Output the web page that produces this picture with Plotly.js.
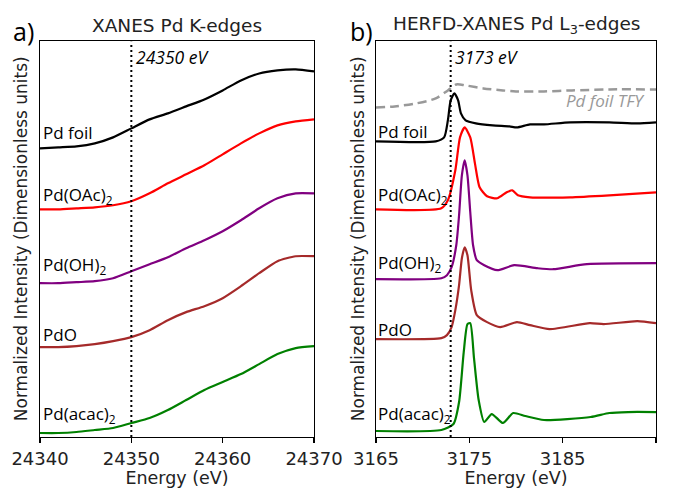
<!DOCTYPE html>
<html>
<head>
<meta charset="utf-8">
<script src="https://cdn.plot.ly/plotly-3.0.1.min.js"></script>
<style>html,body{margin:0;padding:0;background:#fff;}#chart{width:677px;height:488px;}</style>
</head>
<body>
<div id="chart"></div>
<script>
// ---- Panel a) XANES Pd K-edges (offset normalized intensity, arbitrary units) ----
const energyK = [24340,24342,24344,24346,24348,24350,24352,24354,24356,24358,24360,24362,24364,24366,24368,24370];
const kFoil   = [289,290,291,294,300,309,318,324,331,338,347,357,364,367,368,366];
const kOAc    = [228,228,229,230,232,236,244,254,263,272,283,294,304,312,316,318];
const kOH     = [154,154,155,156,159,166,173,180,189,197,206,217,229,239,244,244];
const kPdO    = [90,90,91,93,96,100,107,117,125,131,139,151,164,176,181,181];
const kAcac   = [4,4,5,7,9,14,19,27,37,47,55,63,73,83,89,91];
const ticksK  = [24340,24350,24360,24370];

// ---- Panel b) HERFD-XANES Pd L3-edges ----
const eTFY  = [3165,3167,3169.3,3171.4,3172.7,3173.6,3174.6,3176.5,3178.6,3180,3183,3186,3190,3195];
const lTFY  = [330,331,334,339,347,353,352,349,347,346,346,347,348,348];

const eFoil = [3165,3171.4,3172.3,3172.7,3173.0,3173.4,3173.8,3174.1,3174.6,3175.7,3177.5,3179.3,3180.1,3181.5,3183,3185.8,3190,3193,3195];
const lFoil = [296,296,300,317,337,344,337,324,317,314,312,311,310,313,313,315,315,314,315];

const eOAc  = [3165,3172,3172.7,3173.5,3174.0,3174.5,3175.1,3175.6,3176.1,3176.9,3178.0,3179.0,3179.6,3180.2,3181.5,3185.8,3190,3195];
const lOAc  = [228,229,237,267,300,310,300,274,250,241,239,245,247,242,240,240,242,245];

const eOH   = [3165,3172,3172.6,3173.1,3173.6,3173.9,3174.2,3174.5,3174.8,3175.1,3175.4,3175.8,3176.6,3178,3179.8,3182.3,3184,3187.6,3195];
const lOH   = [158,159,162,170,192,222,262,277,262,225,192,177,172,167,172,169,168,173,174];

const ePdO  = [3165,3172,3172.6,3173.1,3173.5,3173.9,3174.2,3174.5,3174.8,3175.2,3175.8,3176.9,3178.3,3180.1,3181.5,3183.6,3187.9,3189.4,3193,3195];
const lPdO  = [98,99,102,110,127,152,179,190,182,147,122,115,110,115,112,108,114,113,116,114];

const eAcac = [3165,3172,3173.3,3173.9,3174.4,3174.8,3175.1,3175.5,3176.0,3176.6,3177.4,3178.6,3179.7,3181,3183,3188,3190,3192,3195];
const lAcac = [6,7,13,35,85,113,114,79,37,15,23,14,24,21,17,20,24,25,25];
const ticksL = [3165,3175,3185,3195];

const names = ["Pd foil","Pd(OAc)<sub>2</sub>","Pd(OH)<sub>2</sub>","PdO","Pd(acac)<sub>2</sub>"];
const colors = ["#000000","#ff0000","#800080","#a52a2a","#008000"];
const labelYK = [305,242,172,103,23];
const labelYL = [306,242,174,108,23];

const lw = 2.2;
const traces = [];
[kFoil,kOAc,kOH,kPdO,kAcac].forEach((ys,i)=>{
  traces.push({x:energyK,y:ys,type:'scatter',mode:'lines',line:{color:colors[i],width:lw,shape:'spline',smoothing:0.6},xaxis:'x',yaxis:'y'});
});
traces.push({x:eTFY,y:lTFY,type:'scatter',mode:'lines',line:{color:'#999999',width:2.5,dash:'9px,5px',shape:'spline',smoothing:0.8},xaxis:'x2',yaxis:'y2'});
[[eFoil,lFoil],[eOAc,lOAc],[eOH,lOH],[ePdO,lPdO],[eAcac,lAcac]].forEach((d,i)=>{
  traces.push({x:d[0],y:d[1],type:'scatter',mode:'lines',line:{color:colors[i],width:lw,shape:'spline',smoothing:0.6},xaxis:'x2',yaxis:'y2'});
});

const mpl = "'DejaVu Sans', sans-serif";
const ppt = "'Open Sans', sans-serif";
const yDom = [0.1045, 0.915];
const axisCommon = {showline:true,mirror:true,linecolor:'#000',linewidth:1.3,showgrid:false,zeroline:false};

const ann = [];
names.forEach((n,i)=>{
  ann.push({xref:'x',yref:'y',x:24340,y:labelYK[i],text:n,showarrow:false,xanchor:'left',yanchor:'middle',xshift:1,font:{family:ppt,size:17,color:'#000'}});
  ann.push({xref:'x2',yref:'y2',x:3165,y:labelYL[i],text:n,showarrow:false,xanchor:'left',yanchor:'middle',xshift:0,font:{family:ppt,size:17,color:'#000'}});
});
ann.push({xref:'x',yref:'paper',x:24350,y:0.883,text:'<i>24350 eV</i>',showarrow:false,xanchor:'left',yanchor:'middle',xshift:3,font:{family:ppt,size:17.5,color:'#000'}});
ann.push({xref:'x2',yref:'paper',x:3173,y:0.883,text:'<i>3173 eV</i>',showarrow:false,xanchor:'left',yanchor:'middle',xshift:2,font:{family:ppt,size:17.5,color:'#000'}});
ann.push({xref:'x2',yref:'y2',x:3194,y:337,text:'<i>Pd foil TFY</i>',showarrow:false,xanchor:'right',yanchor:'middle',font:{family:ppt,size:17,color:'#999999'}});
ann.push({xref:'paper',yref:'paper',x:23/677,y:1-31/488,text:'a)',showarrow:false,xanchor:'center',yanchor:'middle',font:{family:ppt,size:25,color:'#000'}});
ann.push({xref:'paper',yref:'paper',x:361/677,y:1-31/488,text:'b)',showarrow:false,xanchor:'center',yanchor:'middle',font:{family:ppt,size:25,color:'#000'}});
ann.push({xref:'paper',yref:'paper',x:177/677,y:1-25/488,text:'XANES Pd K-edges',showarrow:false,xanchor:'center',yanchor:'middle',font:{family:mpl,size:18.5,color:'#222'}});
ann.push({xref:'paper',yref:'paper',x:516/677,y:1-25/488,text:'HERFD-XANES Pd L<sub>3</sub>-edges',showarrow:false,xanchor:'center',yanchor:'middle',font:{family:mpl,size:18.5,color:'#222'}});
ann.push({xref:'paper',yref:'paper',x:21/677,y:(yDom[0]+yDom[1])/2,text:'Normalized Intensity (Dimensionless units)',textangle:-90,showarrow:false,xanchor:'center',yanchor:'middle',font:{family:mpl,size:17,color:'#222'}});
ann.push({xref:'paper',yref:'paper',x:358/677,y:(yDom[0]+yDom[1])/2,text:'Normalized Intensity (Dimensionless units)',textangle:-90,showarrow:false,xanchor:'center',yanchor:'middle',font:{family:mpl,size:17,color:'#222'}});

const tickCommon = {ticks:'outside',ticklen:5,tickwidth:1.3,tickcolor:'#000',tickformat:'d',tickfont:{family:mpl,size:18,color:'#222'}};
const layout = {
  width:677,height:488,margin:{l:0,r:0,t:0,b:0},paper_bgcolor:'#fff',plot_bgcolor:'#fff',showlegend:false,
  xaxis:Object.assign({},axisCommon,tickCommon,{domain:[40/677,314/677],range:[24340,24370],tickvals:ticksK,title:{text:'Energy (eV)',font:{family:mpl,size:17.5,color:'#222'},standoff:4},anchor:'y'}),
  yaxis:Object.assign({},axisCommon,{domain:yDom,range:[0,396],showticklabels:false,ticks:'',anchor:'x'}),
  xaxis2:Object.assign({},axisCommon,tickCommon,{domain:[376/677,656/677],range:[3165,3195],tickvals:ticksL,title:{text:'Energy (eV)',font:{family:mpl,size:17.5,color:'#222'},standoff:4},anchor:'y2'}),
  yaxis2:Object.assign({},axisCommon,{domain:yDom,range:[0,396],showticklabels:false,ticks:'',anchor:'x2'}),
  shapes:[
    {type:'line',xref:'x',yref:'y',x0:24350,x1:24350,y0:0,y1:396,line:{color:'#000',width:2,dash:'2px,3px'}},
    {type:'line',xref:'x2',yref:'y2',x0:3173,x1:3173,y0:0,y1:396,line:{color:'#000',width:2,dash:'2px,3px'}}
  ],
  annotations:ann
};
Plotly.newPlot('chart',traces,layout,{staticPlot:true,displayModeBar:false});
</script>
</body>
</html>
